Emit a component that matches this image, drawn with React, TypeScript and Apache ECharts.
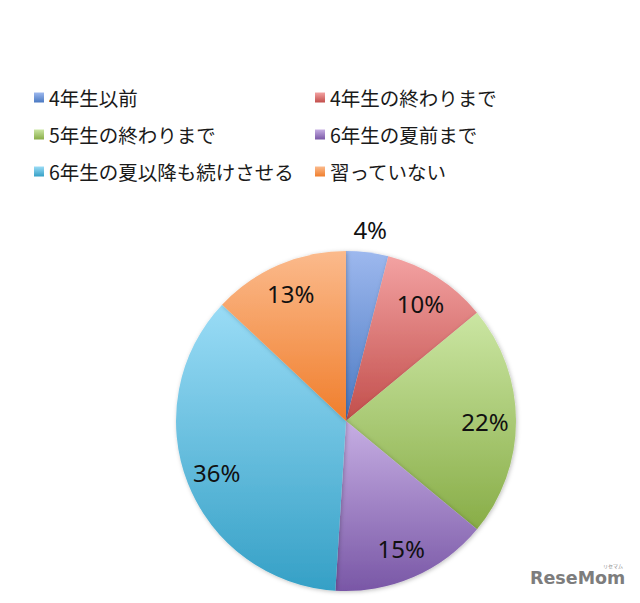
import React, { useEffect, useRef } from "react";
import * as echarts from "echarts";

const categories = [
  "4年生以前",
  "4年生の終わりまで",
  "5年生の終わりまで",
  "6年生の夏前まで",
  "6年生の夏以降も続けさせる",
  "習っていない",
];
const values = [4, 10, 22, 15, 36, 13];
const topColors = ["#9DB8EE", "#F3A2A2", "#CBE6A3", "#C6AEE3", "#9ADCF6", "#FBBA8C"];
const bottomColors = ["#4A79C2", "#C24E4B", "#88AD47", "#7957A6", "#35A0C6", "#F07E2C"];
const leftLegend = [categories[0], categories[2], categories[4]];
const rightLegend = [categories[1], categories[3], categories[5]];

const grad = (i: number) => ({
  type: "linear",
  x: 0,
  y: 0,
  x2: 0,
  y2: 1,
  colorStops: [
    { offset: 0, color: topColors[i] },
    { offset: 1, color: bottomColors[i] },
  ],
});

export default function App() {
  const ref = useRef<HTMLDivElement>(null);
  useEffect(() => {
    if (!ref.current) return;
    const chart = echarts.init(ref.current, undefined, { renderer: "svg" });
    const center = [346, 421];
    const R = 170;
    const legendBase = {
      orient: "vertical",
      top: 87,
      padding: 0,
      itemWidth: 10,
      itemHeight: 10,
      itemGap: 16,
      icon: "rect",
      selectedMode: false,
      textStyle: {
        fontFamily: "'Noto Sans CJK JP', 'Noto Sans', sans-serif",
        fontSize: 19.5,
        lineHeight: 21,
        color: "#1a1a1a",
        padding: [0, 0, 0, 0],
      },
    };
    const labelFont = {
      fontFamily: "'Noto Sans', 'Open Sans', sans-serif",
      fontSize: 24,
      color: "#111",
    };
    chart.setOption({
      animation: false,
      backgroundColor: "#fff",
      legend: [
        { ...legendBase, left: 34, data: leftLegend },
        { ...legendBase, left: 315, data: rightLegend },
      ],
      graphic: [
        {
          type: "text",
          left: 530,
          top: 569,
          style: {
            text: "ReseMom",
            fontFamily: "'DejaVu Sans', sans-serif",
            fontWeight: "bold",
            fontSize: 17.5,
            fill: "#7d7d7d",
          },
        },
        {
          type: "text",
          left: 603,
          top: 563,
          style: {
            text: "リセマム",
            fontFamily: "'Noto Sans CJK JP', sans-serif",
            fontSize: 5,
            fill: "#888",
          },
        },
      ],
      series: [
        {
          type: "pie",
          center,
          radius: [0, R],
          startAngle: 90,
          clockwise: true,
          silent: true,
          label: { show: false },
          labelLine: { show: false },
          emphasis: { disabled: true },
          itemStyle: {
            shadowBlur: 4,
            shadowColor: "rgba(0,0,0,0.25)",
            shadowOffsetX: 1,
            shadowOffsetY: 1,
          },
          data: categories.map((n, i) => ({
            name: n,
            value: values[i],
            itemStyle: { color: grad(i) },
          })),
        },
        {
          type: "pie",
          center,
          radius: [R * 0.6, R],
          startAngle: 90,
          silent: true,
          legendHoverLink: false,
          emphasis: { disabled: true },
          itemStyle: { color: "rgba(0,0,0,0)" },
          labelLine: { show: false },
          label: {
            show: true,
            position: "inside",
            formatter: "{c}%",
            ...labelFont,
          },
          data: categories.map((n, i) => ({
            name: n,
            value: values[i],
            label: { show: i !== 0 },
          })),
        },
        {
          type: "pie",
          center,
          radius: [R, R * 1.24],
          startAngle: 90,
          silent: true,
          legendHoverLink: false,
          emphasis: { disabled: true },
          itemStyle: { color: "rgba(0,0,0,0)" },
          labelLine: { show: false },
          label: {
            show: true,
            position: "inside",
            formatter: "{c}%",
            ...labelFont,
          },
          data: categories.map((n, i) => ({
            name: n,
            value: values[i],
            label: { show: i === 0 },
          })),
        },
      ],
    });
    return () => chart.dispose();
  }, []);
  return (
    <div
      ref={ref}
      style={{ position: "fixed", left: 0, top: 0, width: 640, height: 603 }}
    />
  );
}
